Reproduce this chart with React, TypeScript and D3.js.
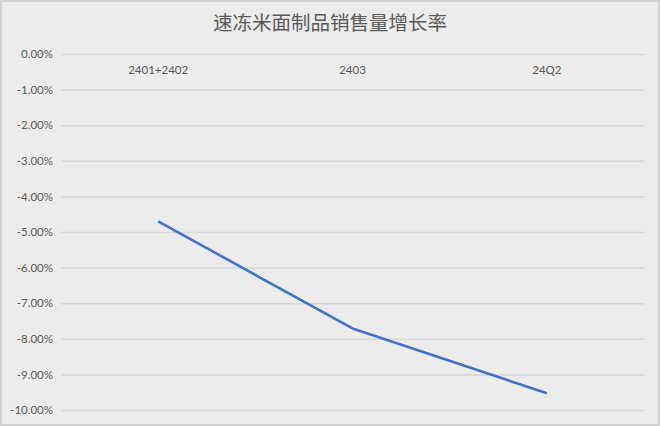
import * as d3 from "d3";
import { useEffect, useRef } from "react";

const categories = ["2401+2402", "2403", "24Q2"];
const growthRate = [-4.7, -7.71, -9.53];
const yTicks = [0, -1, -2, -3, -4, -5, -6, -7, -8, -9, -10];

const width = 660;
const height = 426;
const margin = { top: 54, right: 16, bottom: 16, left: 61 };

function App() {
  const ref = useRef<SVGSVGElement>(null);

  useEffect(() => {
    const svg = d3.select(ref.current);
    svg.selectAll("*").remove();

    svg
      .append("rect")
      .attr("x", 1)
      .attr("y", 1)
      .attr("width", width - 2)
      .attr("height", height - 2)
      .attr("fill", "#ececec")
      .attr("stroke", "#d0d0d0")
      .attr("stroke-width", 2);

    svg
      .append("text")
      .attr("x", width / 2)
      .attr("y", 30)
      .attr("text-anchor", "middle")
      .attr("font-family", "'Noto Sans CJK SC', sans-serif")
      .attr("font-size", 19.5)
      .attr("fill", "#595959")
      .text("速冻米面制品销售量增长率");

    const x = d3
      .scaleBand()
      .domain(categories)
      .range([margin.left, width - margin.right]);

    const y = d3
      .scaleLinear()
      .domain([-10, 0])
      .range([height - margin.bottom, margin.top]);

    const yAxis = svg
      .append("g")
      .attr("transform", `translate(${margin.left},0)`)
      .call(
        d3
          .axisLeft(y)
          .tickValues(yTicks)
          .tickSize(-(width - margin.left - margin.right))
          .tickPadding(8)
          .tickFormat((d) => `${(+d).toFixed(2)}%`),
      );
    yAxis.select(".domain").remove();
    yAxis.selectAll("line").attr("stroke", "#d6d6d6").attr("stroke-width", 1.5);
    yAxis
      .selectAll("text")
      .attr("fill", "#595959")
      .attr("font-size", 11.5)
      .attr("font-family", "Lato, 'Open Sans', sans-serif");

    // category labels sit just under the 0% line
    const xAxis = svg
      .append("g")
      .attr("transform", `translate(0,${y(0)})`)
      .call(d3.axisBottom(x).tickSize(0).tickPadding(12));
    xAxis.select(".domain").remove();
    xAxis
      .selectAll("text")
      .attr("fill", "#595959")
      .attr("font-size", 11.5)
      .attr("font-family", "Lato, 'Open Sans', sans-serif");

    const line = d3
      .line<number>()
      .x((_, i) => (x(categories[i]) ?? 0) + x.bandwidth() / 2)
      .y((d) => y(d));

    svg
      .append("path")
      .datum(growthRate)
      .attr("fill", "none")
      .attr("stroke", "#4472c4")
      .attr("stroke-width", 2.6)
      .attr("stroke-linejoin", "round")
      .attr("d", line);
  }, []);

  return (
    <svg
      ref={ref}
      width={width}
      height={height}
      style={{ position: "absolute", left: 0, top: 0 }}
    />
  );
}

export default App;
